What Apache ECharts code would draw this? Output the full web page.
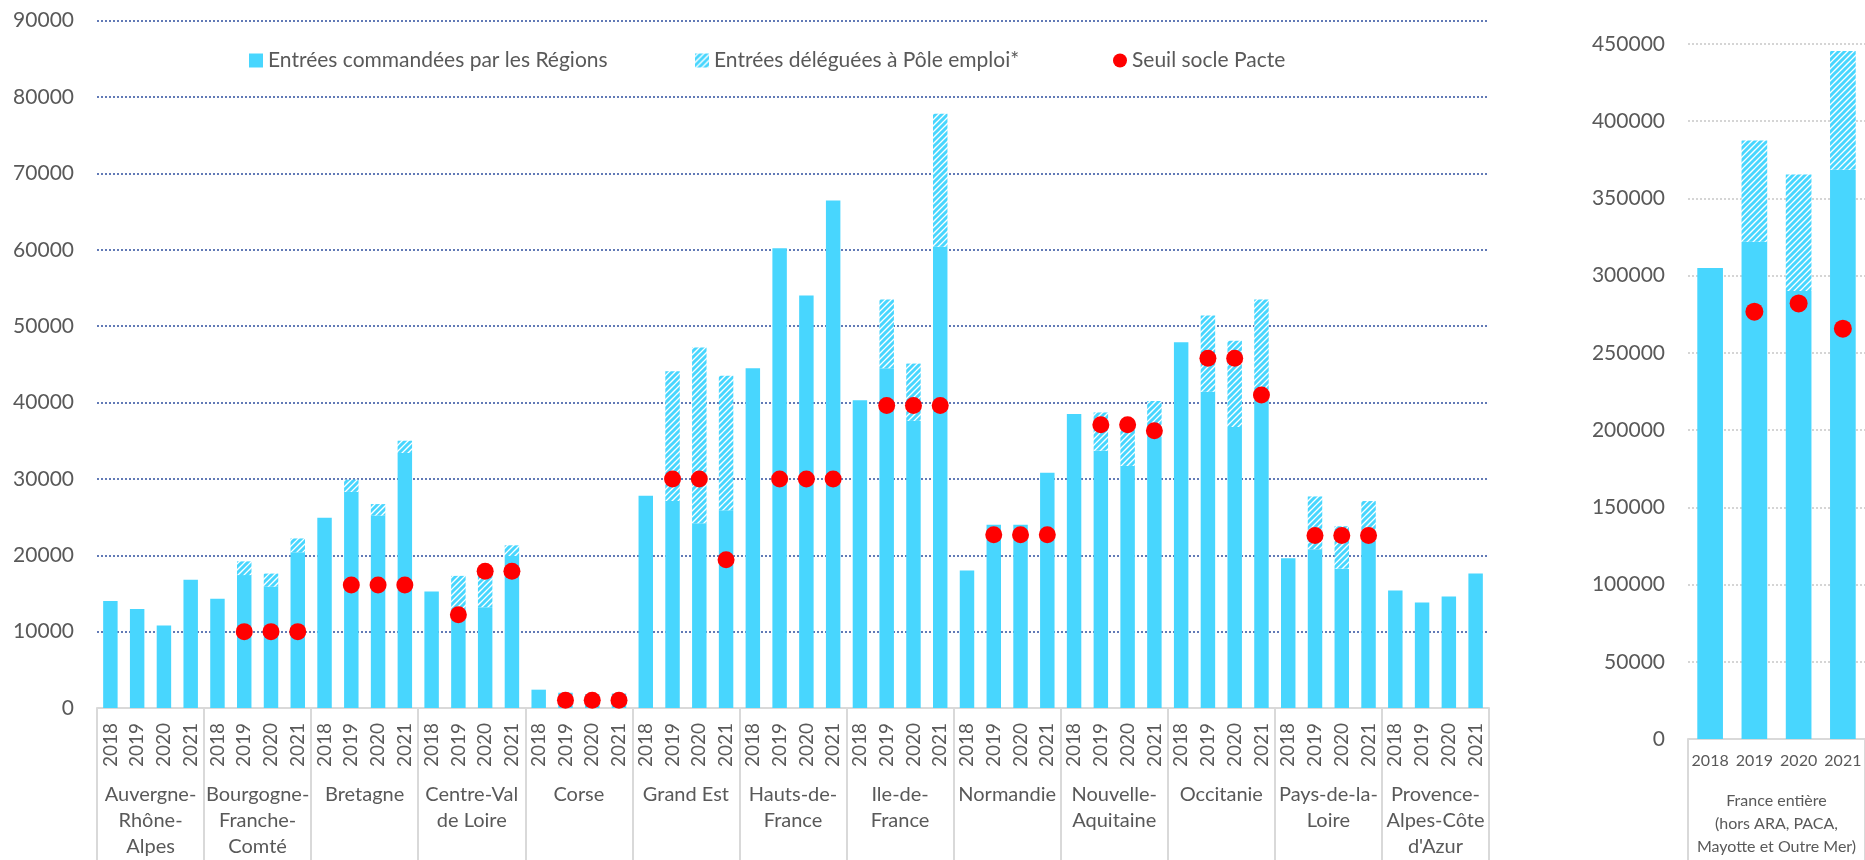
<!DOCTYPE html>
<html>
<head>
<meta charset="utf-8">
<script src="https://cdn.jsdelivr.net/npm/echarts@6/dist/echarts.min.js"></script>
<style>
html,body{margin:0;padding:0;background:#fff;}
#c{width:1865px;height:860px;}
</style>
</head>
<body>
<div id="c"></div>
<script>
// ---- Data ----
const regions = ['Auvergne-\nRhône-\nAlpes','Bourgogne-\nFranche-\nComté','Bretagne','Centre-Val\nde Loire','Corse','Grand Est','Hauts-de-\nFrance','Ile-de-\nFrance','Normandie','Nouvelle-\nAquitaine','Occitanie','Pays-de-la-\nLoire','Provence-\nAlpes-Côte\nd\'Azur'];
const years = ['2018','2019','2020','2021'];
const commandees = [
  14000,12950,10800,16800,
  14300,17400,15900,20400,
  24900,28300,25200,33400,
  15250,12000,13200,19900,
  2400,2000,1800,1900,
  27800,27100,24200,25900,
  44500,60200,54000,66450,
  40300,44500,37600,60400,
  18000,24000,24000,30800,
  38500,33700,31700,35500,
  47900,41400,36800,40200,
  19600,20800,18250,21900,
  15400,13800,14600,17600
];
const deleguees = [
  null,null,null,null,
  null,1800,1700,1800,
  null,1600,1500,1600,
  null,5300,4400,1400,
  null,null,null,null,
  null,17000,23000,17600,
  null,null,null,null,
  null,9000,7500,17400,
  null,null,null,null,
  null,5000,5500,4700,
  null,10000,11300,13300,
  null,6900,5550,5200,
  null,null,null,null
];
const seuil = [
  null,null,null,null,
  null,10000,10000,10000,
  null,16100,16100,16100,
  null,12200,17900,17900,
  null,1000,1000,1000,
  null,30000,30000,19400,
  null,30000,30000,30000,
  null,39600,39600,39600,
  null,22700,22700,22700,
  null,37100,37100,36300,
  null,45800,45800,41000,
  null,22600,22600,22600,
  null,null,null,null
];
const franceLabel = 'France entière\n(hors ARA, PACA,\nMayotte et Outre Mer)';
const franceCommandees = [305000,322000,290000,368500];
const franceDeleguees = [null,65500,75500,77000];
const franceSeuil = [null,276700,282000,265700];
const leftTicks = {min:0,max:90000,interval:10000};
const rightTicks = {min:0,max:450000,interval:50000};

const yearCats = [];
regions.forEach(() => years.forEach(y => yearCats.push(y)));

// ---- Styles ----
const CYAN = '#48D6FE';
const TXT = '#595959';
const FONT = 'Lato';
const hatch = document.createElement('canvas');
hatch.width = 12; hatch.height = 12;
(function(){
  const g = hatch.getContext('2d');
  g.fillStyle = '#fff'; g.fillRect(0,0,12,12);
  g.strokeStyle = CYAN; g.lineWidth = 3;
  for (let c = -6; c <= 30; c += 6) {
    g.beginPath(); g.moveTo(c - 14, 14); g.lineTo(c + 2, -2); g.stroke();
  }
})();
const hatchColor = {image: hatch, repeat: 'repeat'};

const N1 = 'Entrées commandées par les Régions';
const N2 = 'Entrées déléguées à Pôle emploi*';
const N3 = 'Seuil socle Pacte';

const chart = echarts.init(document.getElementById('c'), null, {renderer:'canvas'});
const legendText = {color: TXT, fontFamily: FONT, fontSize: 21};
const plain = v => String(v);
const option = {
  animation: false,
  backgroundColor: '#fff',
  textStyle: {fontFamily: FONT},
  legend: [
    {data:[N1], left: 244, top: 45, itemWidth: 14, itemHeight: 14, icon: 'rect', textStyle: legendText},
    {data:[N2], left: 690, top: 45, itemWidth: 14, itemHeight: 14, icon: 'rect', textStyle: legendText},
    {data:[N3], left: 1108, top: 45, itemWidth: 14, itemHeight: 14, icon: 'circle', textStyle: legendText}
  ],
  grid: [
    {left: 97, top: 20.7, width: 1392, height: 690.3, containLabel: false},
    {left: 1688, top: 44, width: 178, height: 695, containLabel: false}
  ],
  xAxis: [
    {type:'category', gridIndex:0, data: yearCats, position:'bottom',
     axisLine:{show:true, lineStyle:{color:'#D9D9D9', width:2}},
     axisTick:{show:false},
     axisLabel:{interval:0, rotate:90, margin:15, color:TXT, fontFamily:FONT, fontSize:19}},
    {type:'category', gridIndex:0, data: regions, position:'bottom',
     axisLine:{show:false},
     axisTick:{show:true, length:160, alignWithLabel:false, interval:0, lineStyle:{color:'#D9D9D9', width:2}},
     axisLabel:{interval:0, margin:74, lineHeight:26, color:TXT, fontFamily:FONT, fontSize:20}},
    {type:'category', gridIndex:1, data: years, position:'bottom',
     axisLine:{show:true, lineStyle:{color:'#D9D9D9', width:2}},
     axisTick:{show:false},
     axisLabel:{interval:0, margin:14, color:TXT, fontFamily:FONT, fontSize:16}},
    {type:'category', gridIndex:1, data: [franceLabel], position:'bottom',
     axisLine:{show:false},
     axisTick:{show:true, length:130, alignWithLabel:false, lineStyle:{color:'#D9D9D9', width:2}},
     axisLabel:{interval:0, margin:50, lineHeight:23, color:TXT, fontFamily:FONT, fontSize:16}}
  ],
  yAxis: [
    {type:'value', gridIndex:0, min:leftTicks.min, max:leftTicks.max, interval:leftTicks.interval,
     axisLine:{show:false}, axisTick:{show:false},
     axisLabel:{margin:23, color:TXT, fontFamily:FONT, fontSize:21, formatter: plain},
     splitLine:{show:true, lineStyle:{color:'#2F4F9F', type:[2,2], width:1.5}}},
    {type:'value', gridIndex:1, min:rightTicks.min, max:rightTicks.max, interval:rightTicks.interval,
     axisLine:{show:false}, axisTick:{show:false},
     axisLabel:{margin:23, color:TXT, fontFamily:FONT, fontSize:21, formatter: plain},
     splitLine:{show:true, lineStyle:{color:'#C8C8C8', type:[2,2], width:1.5}}}
  ],
  series: [
    {name:N1, type:'bar', xAxisIndex:0, yAxisIndex:0, stack:'L', data: commandees, barWidth:'54%',
     itemStyle:{color:CYAN}},
    {name:N2, type:'bar', xAxisIndex:0, yAxisIndex:0, stack:'L', data: deleguees, barWidth:'54%',
     itemStyle:{color:hatchColor}},
    {name:N3, type:'scatter', xAxisIndex:0, yAxisIndex:0, data: seuil, symbol:'circle', symbolSize:17,
     itemStyle:{color:'#FF0000', opacity:1}, z:5},
    {name:N1, type:'bar', xAxisIndex:2, yAxisIndex:1, stack:'R', data: franceCommandees, barWidth:'58%',
     itemStyle:{color:CYAN}},
    {name:N2, type:'bar', xAxisIndex:2, yAxisIndex:1, stack:'R', data: franceDeleguees, barWidth:'58%',
     itemStyle:{color:hatchColor}},
    {name:N3, type:'scatter', xAxisIndex:2, yAxisIndex:1, data: franceSeuil, symbol:'circle', symbolSize:18,
     itemStyle:{color:'#FF0000', opacity:1}, z:5}
  ]
};
chart.setOption(option);
</script>
</body>
</html>
